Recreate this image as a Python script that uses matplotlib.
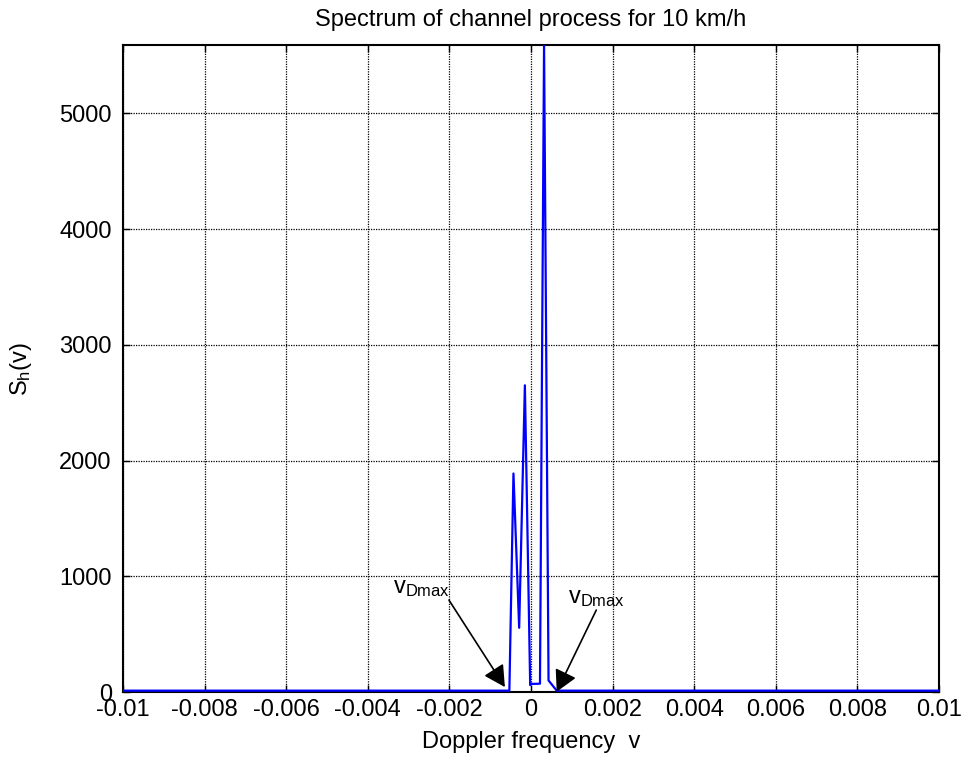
import matplotlib
matplotlib.use("Agg")
import matplotlib.pyplot as plt
import numpy as np

plt.rcParams['font.family'] = ['Liberation Sans', 'DejaVu Sans']

# Doppler frequency samples and spectrum values S_h(v)
freq = [-0.01, -0.00053, -0.00043, -0.00029, -0.00015, -0.00002,
        0.00001, 0.00022, 0.00032, 0.00043, 0.00063, 0.01]
spectrum = [12, 12, 1888, 555, 2650, 60,
            70, 72, 5590, 100, 12, 12]

xticks = [-0.01, -0.008, -0.006, -0.004, -0.002, 0, 0.002, 0.004, 0.006, 0.008, 0.01]
xtick_labels = ['-0.01', '-0.008', '-0.006', '-0.004', '-0.002', '0',
                '0.002', '0.004', '0.006', '0.008', '0.01']
yticks = [0, 1000, 2000, 3000, 4000, 5000]

# max Doppler shift markers: arrow tip, arrow tail, text anchor
vdmax_tips = [(-0.00064, 43), (0.00063, 3)]
vdmax_tails = [(-0.00201, 794), (0.0016, 708)]
vdmax_text = [(-0.00199, 800), (0.00090, 720)]

fs = 17
fig = plt.figure(figsize=(9.63, 7.64), dpi=100)
ax = fig.add_axes([0.1277, 0.0942, 0.8474, 0.8469])

ax.plot(freq, spectrum, color='#0000ff', lw=1.6, zorder=3)

ax.set_xlim(-0.01, 0.01)
ax.set_ylim(0, 5590)
ax.set_xticks(xticks)
ax.set_xticklabels(xtick_labels)
ax.set_yticks(yticks)
ax.tick_params(direction='in', length=5, width=1, labelsize=fs,
               top=True, right=True)
ax.tick_params(axis='x', pad=5)
ax.tick_params(axis='y', pad=8)
ax.grid(True, color='black', linestyle=(0, (1.0, 1.0)), linewidth=0.9)
for s in ax.spines.values():
    s.set_linewidth(1.5)

ax.set_title('Spectrum of channel process for 10 km/h', fontsize=fs, pad=14)
ax.set_xlabel('Doppler frequency  v', fontsize=fs, labelpad=7)
ax.set_ylabel(r'$\mathregular{S_h(v)}$', fontsize=fs, labelpad=18)

label = r'$\mathregular{v_{Dmax}}$'
for tip, tail, (tx, ty), ha in zip(vdmax_tips, vdmax_tails, vdmax_text,
                                   ['right', 'left']):
    ax.annotate('', xy=tip, xytext=tail,
                arrowprops=dict(arrowstyle='-|>,head_length=1.3,head_width=0.7',
                                color='black', lw=1.2, shrinkA=0, shrinkB=0),
                zorder=4)
    ax.text(tx, ty, label, fontsize=fs, ha=ha, va='bottom', zorder=4)

fig.savefig('out.png', dpi=100)
